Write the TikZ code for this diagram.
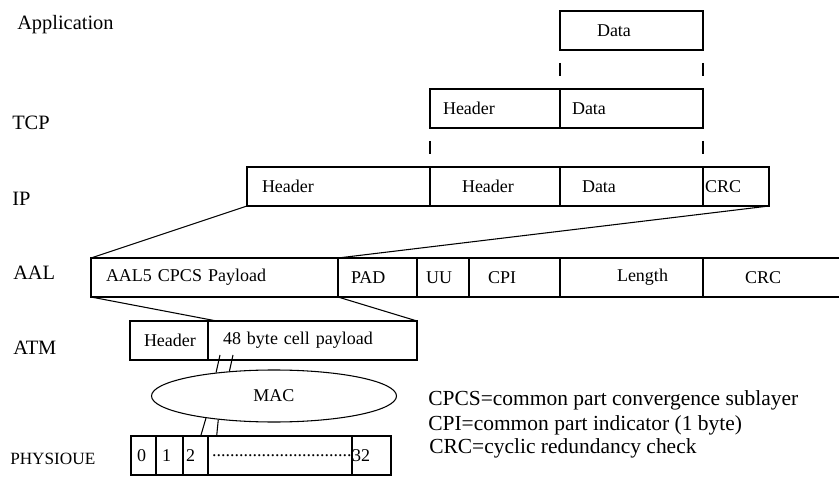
\documentclass[tikz,border=0pt]{standalone}
\usepackage{fontspec}
\setmainfont{Liberation Serif}
\usetikzlibrary{positioning,shapes.geometric}

\newcommand\boxfont{\fontsize{13.5}{16}\selectfont}
\newcommand\layerfont{\fontsize{15.3}{18}\selectfont}
\newcommand\keyfont{\fontsize{16.1}{19}\selectfont}

\tikzset{
  cell/.style 2 args={draw, thick, anchor=north west, minimum height=29.25pt,
    inner ysep=0pt, outer sep=0pt, text width={(#1-2*#2)*0.75pt}, inner xsep={#2*0.75pt},
    align=left, font=\boxfont},
  layer/.style={anchor=west, inner sep=0pt, font=\layerfont},
  keyline/.style={anchor=base west, inner sep=0pt, font=\keyfont},
  link/.style={thick, dash pattern=on 0pt off 9.75pt on 9.5pt off 20pt},
  slash/.style={thick}
}

\begin{document}
\begin{tikzpicture}[x=0.75pt,y=-0.75pt]
\useasboundingbox (0,0) rectangle (839,477);

% layer names
\node[layer] (lApp) at (17,25) {Application};
\node[layer] (lTcp) at (12,123) {TCP};
\node[layer] (lIp) at (12,199) {IP};
\node[layer] (lAal) at (13,273) {AAL};
\node[layer] (lAtm) at (13,348) {ATM};
\node[layer, font=\fontsize{12.9}{15}\selectfont] (lPhy) at (10,459) {PHYSIOUE};

% application
\node[cell={143}{37}] (appD) at (560,11) {Data};

% tcp
\node[cell={130}{13}] (tcpH) at (430,89) {Header};
\node[cell={143}{12}, right=0pt of tcpH] (tcpD) {Data};

% ip
\node[cell={183}{15}] (ipH) at (247,167) {Header};
\node[cell={130}{32}, right=0pt of ipH] (ipT) {Header};
\node[cell={143}{22}, right=0pt of ipT] (ipD) {Data};
\node[cell={66}{2}, right=0pt of ipD] (ipC) {CRC};

% aal
\node[cell={247}{15}] (aalP) at (91,258) {AAL5 CPCS Payload};
\node[cell={79}{13}, right=0pt of aalP] (aalPad) {PAD};
\node[cell={52}{9}, right=0pt of aalPad] (aalUU) {UU};
\node[cell={91}{19}, right=0pt of aalUU] (aalCPI) {CPI};
\node[cell={143}{57}, right=0pt of aalCPI] (aalLen) {Length};
\node[cell={139}{42}, right=0pt of aalLen] (aalC) {CRC};

% atm
\node[cell={78}{14}] (atmH) at (130,321) {Header};
\node[cell={209}{15}, right=0pt of atmH] (atmP) {48 byte cell payload};

% mac
\node[draw, thick, ellipse, minimum width=183.75pt, minimum height=39pt, font=\boxfont] (mac) at (274,396) {MAC};

% physical slots
\node[cell={25}{6}] (phy0) at (131,436) {0};
\node[cell={27}{6}, right=0pt of phy0] (phy1) {1};
\node[cell={25}{3}, right=0pt of phy1] (phy2) {2};
\node[cell={144}{4}, right=0pt of phy2] (phyDots) {...............................};
\node[cell={39}{0}, right=0pt of phyDots] (phy32) {32};

% correspondences
\draw[link] (appD.south west) -- (tcpD.north west);
\draw[link] (appD.south east) -- (tcpD.north east);
\draw[link] (tcpH.south west) -- (ipT.north west);
\draw[link] (tcpD.south east) -- (ipD.north east);

\draw[thick] (ipH.south west) -- (aalP.north west);
\draw[thick] (ipC.south east) -- (aalPad.north west);
\draw[thick] (aalP.south west) -- ([xshift=6.5pt]atmP.north west);
\draw[thick] (aalPad.south west) -- (atmP.north east);

\draw[slash] ([shift={(12,-5)}]atmP.south west) -- (mac.158);
\draw[slash] ([shift={(25,-5)}]atmP.south west) -- (mac.151);
\draw[slash] (mac.198) -- ([xshift=13.3pt]phy2.north west);
\draw[slash] (mac.203) -- ([xshift=6.5pt]phyDots.north west);

% key
\node[keyline] (key1) at (428,405) {CPCS=common part convergence sublayer};
\node[keyline] (key2) at (428,430) {CPI=common part indicator (1 byte)};
\node[keyline] (key3) at (429,453) {CRC=cyclic redundancy check};

\end{tikzpicture}
\end{document}
